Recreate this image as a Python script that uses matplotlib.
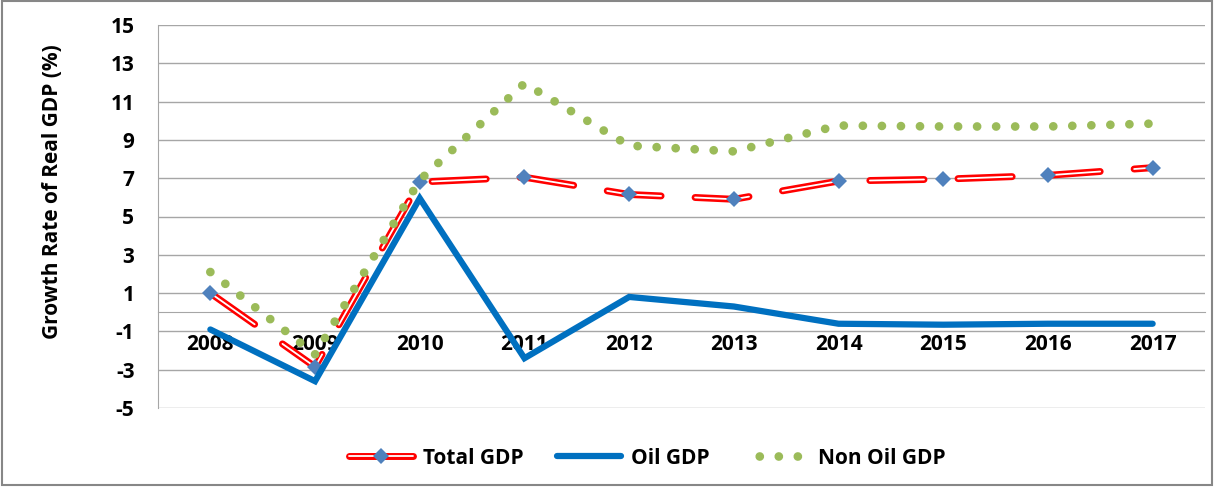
import matplotlib
matplotlib.use('Agg')
import matplotlib.pyplot as plt
from matplotlib.lines import Line2D
from matplotlib.patches import Rectangle

# values
years = ['2008', '2009', '2010', '2011', '2012', '2013', '2014', '2015', '2016', '2017']
total_gdp = [1.0, -2.85, 6.8, 7.05, 6.15, 5.9, 6.85, 6.95, 7.15, 7.55]
oil_gdp = [-0.9, -3.6, 5.95, -2.4, 0.8, 0.3, -0.6, -0.65, -0.6, -0.6]
non_oil_gdp = [2.1, -2.2, 6.9, 11.95, 8.7, 8.4, 9.75, 9.7, 9.7, 9.85]
y_ticks = list(range(-5, 16, 2))

plt.rcParams['font.family'] = ['Open Sans', 'DejaVu Sans']
plt.rcParams['font.weight'] = 'bold'
plt.rcParams['lines.scale_dashes'] = False
plt.rcParams['axes.unicode_minus'] = False

RED = '#FF0000'
BLUE = '#0070C0'
GREEN = '#9BBB59'
MARK = '#4F81BD'
GRID = '#A6A6A6'

fig = plt.figure(figsize=(12.14, 4.87), dpi=100)
ax = fig.add_axes([158/1214, 1 - 408/487, (1205 - 158)/1214, (408 - 25)/487])

x = list(range(len(years)))
dash = (0, (39, 24.5))

# Total GDP: red outline with a white core, plus diamonds
ax.plot(x, total_gdp, color=RED, lw=5, linestyle=dash,
        dash_capstyle='round', dash_joinstyle='round', zorder=3)
ax.plot(x, total_gdp, color='white', lw=1.3, linestyle=dash,
        dash_capstyle='round', dash_joinstyle='round', zorder=3.1)
ax.plot(x, total_gdp, linestyle='none', marker='D', ms=8,
        color=MARK, markeredgewidth=0, zorder=3.2)

ax.plot(x, oil_gdp, color=BLUE, lw=4.5, solid_capstyle='round',
        solid_joinstyle='miter', zorder=4)

ax.plot(x, non_oil_gdp, color=GREEN, lw=6.3, linestyle=(0, (0.01, 13.7)),
        dash_capstyle='round', zorder=5)

ax.set_xlim(-0.5, len(years) - 0.5)
ax.set_ylim(-5, 15)
ax.set_yticks(y_ticks)
ax.set_xticks(x)
ax.set_xticklabels(years)
ax.grid(axis='y', color=GRID, lw=1)
ax.set_axisbelow(True)

for s in ['top', 'right']:
    ax.spines[s].set_visible(False)
ax.spines['left'].set_color(GRID)
ax.spines['bottom'].set_color(GRID)
ax.spines['bottom'].set_position(('data', 0))

ax.tick_params(axis='y', length=0, pad=17, labelsize=15)
ax.tick_params(axis='x', length=0, pad=16, labelsize=15)

fig.text(52/1214, 1 - 192/487, 'Growth Rate of Real GDP (%)', rotation=90,
         ha='center', va='center', fontsize=15, fontweight='bold')

# legend
h_total = (Line2D([], [], color=RED, lw=5, solid_capstyle='round'),
           Line2D([], [], color='white', lw=1.3, solid_capstyle='round'),
           Line2D([], [], linestyle='none', marker='D', ms=8, color=MARK,
                  markeredgewidth=0))
h_oil = Line2D([], [], color=BLUE, lw=4.5, solid_capstyle='round')
h_non = Line2D([], [], color=GREEN, lw=6.3, linestyle=(2, (0.01, 13.7)),
               dash_capstyle='round')
fig.legend([h_total, h_oil, h_non], ['Total GDP', 'Oil GDP', 'Non Oil GDP'],
           loc='center', bbox_to_anchor=(647/1214, 1 - 458/487), ncol=3,
           frameon=False, fontsize=15, handlelength=3.07, handletextpad=0.5,
           columnspacing=1.6)

# outer chart border
fig.patches.append(Rectangle((0.002, 0.004), 0.996, 0.993, transform=fig.transFigure,
                             fill=False, edgecolor='#878787', lw=1.5))

plt.savefig('out.png', dpi=100)
